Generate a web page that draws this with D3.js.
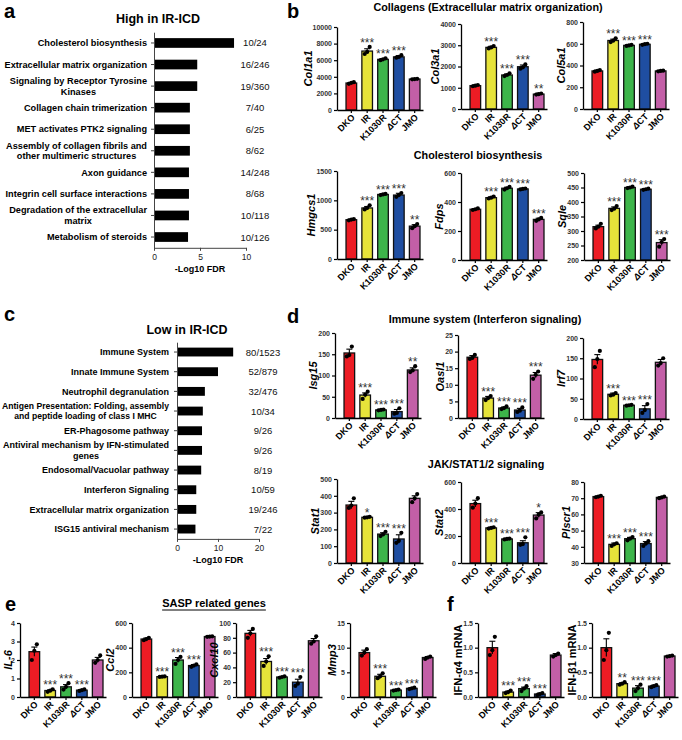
<!DOCTYPE html>
<html><head><meta charset="utf-8">
<script src="https://cdn.jsdelivr.net/npm/d3@7"></script>
<style>
body{margin:0;background:#fff}
svg{display:block}
text{font-family:"Liberation Sans",Arial,Helvetica,sans-serif}
</style>
</head><body>
<svg id="fig" width="682" height="740"></svg>
<script>
// ---------------- DATA ----------------
const groups = ["DKO", "IR", "K1030R", "ΔCT", "JMO"];
const groupColors = ["#ec1c24", "#e6e33a", "#3db54a", "#1f4ea1", "#c35fa7"];

const highTerms = ["Cholesterol biosynthesis", "Extracellular matrix organization",
  "Signaling by Receptor Tyrosine\nKinases", "Collagen chain trimerization",
  "MET activates PTK2 signaling", "Assembly of collagen fibrils and\nother multimeric structures",
  "Axon guidance", "Integrin cell surface interactions",
  "Degradation of the extracellular\nmatrix", "Metabolism of steroids"];
const highLogFDR = [8.7, 4.7, 4.7, 3.9, 3.9, 3.9, 3.8, 3.8, 3.8, 3.7];
const highCounts = ["10/24", "16/246", "19/360", "7/40", "6/25", "8/62", "14/248", "8/68", "10/118", "10/126"];
const highTicks = [0, 5, 10];

const lowTerms = ["Immune System", "Innate Immune System", "Neutrophil degranulation",
  "Antigen Presentation: Folding, assembly\nand peptide loading of class I MHC",
  "ER-Phagosome pathway", "Antiviral mechanism by IFN-stimulated\ngenes",
  "Endosomal/Vacuolar pathway", "Interferon Signaling",
  "Extracellular matrix organization", "ISG15 antiviral mechanism"];
const lowLogFDR = [13.7, 10.0, 6.8, 6.3, 6.1, 6.1, 5.9, 4.7, 4.7, 4.5];
const lowCounts = ["80/1523", "52/879", "32/476", "10/34", "9/26", "9/26", "8/19", "10/59", "19/246", "7/22"];
const lowTicks = [0, 10, 20];

// panel b
const col1a1 = [3250, 7100, 6100, 6400, 3730];
const col1a1Sem = [80, 280, 80, 150, 40];
const col1a1Pts = [[3150, 3280, 3350], [6750, 7000, 7600], [6000, 6100, 6220], [6300, 6400, 6600], [3700, 3730, 3760]];
const col1a1Sig = ["", "***", "***", "***", ""];
const col1a1Ticks = [0, 2000, 4000, 6000, 8000, 10000];

const col3a1 = [1100, 2900, 1600, 1990, 700];
const col3a1Sem = [40, 50, 50, 80, 40];
const col3a1Pts = [[1070, 1100, 1130], [2850, 2900, 2960], [1550, 1600, 1680], [1900, 1960, 2100], [680, 700, 730]];
const col3a1Sig = ["", "***", "***", "***", "**"];
const col3a1Ticks = [0, 1000, 2000, 3000, 4000];

const col5a1 = [350, 630, 585, 595, 350];
const col5a1Sem = [7, 12, 5, 5, 3];
const col5a1Pts = [[343, 350, 358], [615, 628, 650], [580, 585, 590], [590, 596, 600], [346, 350, 352]];
const col5a1Sig = ["", "***", "***", "***", ""];
const col5a1Ticks = [0, 200, 400, 600, 800];

const hmgcs1 = [670, 870, 1100, 1090, 560];
const hmgcs1Sem = [10, 25, 12, 30, 25];
const hmgcs1Pts = [[660, 672, 680], [845, 870, 915], [1090, 1100, 1110], [1060, 1090, 1125], [525, 560, 595]];
const hmgcs1Sig = ["", "***", "***", "***", "**"];
const hmgcs1Ticks = [0, 500, 1000, 1500];

const fdps = [350, 430, 495, 490, 280];
const fdpsSem = [5, 6, 7, 3, 8];
const fdpsPts = [[345, 350, 356], [424, 430, 438], [486, 495, 504], [487, 490, 493], [270, 280, 290]];
const fdpsSig = ["", "***", "***", "***", "***"];
const fdpsTicks = [0, 200, 400, 600];

const sqle = [315, 378, 450, 444, 260];
const sqleSem = [5, 5, 2, 2, 10];
const sqlePts = [[309, 315, 325], [372, 377, 386], [448, 450, 453], [442, 444, 446], [246, 262, 272]];
const sqleSig = ["", "***", "***", "***", "***"];
const sqleTicks = [200, 250, 300, 350, 400, 450, 500];

// panel d
const isg15 = [153, 54, 19, 15, 113];
const isg15Sem = [9, 5, 1, 5, 5];
const isg15Pts = [[145, 148, 168], [45, 55, 62], [18, 19, 20], [10, 12, 23], [108, 112, 122]];
const isg15Sig = ["", "***", "***", "***", "**"];
const isg15Ticks = [0, 50, 100, 150, 200];

const oasl1 = [18.3, 6.0, 3.0, 2.4, 12.9];
const oasl1Sem = [0.5, 0.5, 0.3, 0.5, 0.8];
const oasl1Pts = [[17.8, 18.1, 19.0], [5.4, 6.0, 6.6], [2.7, 3.0, 3.5], [1.8, 2.2, 3.2], [11.8, 13.0, 14.0]];
const oasl1Sig = ["", "***", "***", "***", "***"];
const oasl1Ticks = [0, 5, 10, 15, 20, 25];

const irf7 = [147, 61, 34, 25, 140];
const irf7Sem = [12, 3, 1, 8, 7];
const irf7Pts = [[128, 148, 168], [58, 60, 64], [33, 34, 35], [15, 22, 37], [132, 138, 150]];
const irf7Sig = ["", "***", "***", "***", ""];
const irf7Ticks = [0, 50, 100, 150, 200];

const stat1 = [345, 272, 172, 143, 385];
const stat1Sem = [22, 3, 8, 25, 15];
const stat1Pts = [[328, 342, 385], [270, 272, 275], [160, 170, 186], [120, 132, 180], [362, 385, 410]];
const stat1Sig = ["", "*", "***", "***", ""];
const stat1Ticks = [0, 100, 200, 300, 400, 500];

const stat2 = [440, 260, 178, 150, 355];
const stat2Sem = [25, 5, 3, 15, 18];
const stat2Pts = [[410, 440, 480], [255, 260, 265], [175, 178, 181], [135, 140, 190], [330, 358, 375]];
const stat2Sig = ["", "***", "***", "***", "*"];
const stat2Ticks = [0, 200, 400, 600];

const plscr1 = [71.0, 41.5, 45.0, 42.0, 70.5];
const plscr1Sem = [0.4, 0.8, 0.8, 1.2, 0.4];
const plscr1Pts = [[70.6, 71.0, 71.5], [40.5, 41.5, 42.2], [44.0, 45.0, 46.0], [40.5, 42.0, 43.5], [70.0, 70.5, 71.0]];
const plscr1Sig = ["", "***", "***", "***", ""];
const plscr1Ticks = [30, 40, 50, 60, 70, 80];

// panel e
const il6 = [2.45, 0.35, 0.55, 0.37, 2.0];
const il6Sem = [0.25, 0.04, 0.12, 0.03, 0.14];
const il6Pts = [[2.0, 2.5, 2.85], [0.28, 0.34, 0.42], [0.4, 0.55, 0.75], [0.33, 0.37, 0.41], [1.85, 2.0, 2.25]];
const il6Sig = ["", "***", "***", "***", ""];
const il6Ticks = [0, 1, 2, 3, 4];

const ccl2 = [470, 165, 300, 255, 490];
const ccl2Sem = [8, 3, 20, 8, 3];
const ccl2Pts = [[460, 470, 480], [163, 165, 167], [268, 300, 325], [245, 255, 265], [488, 490, 492]];
const ccl2Sig = ["", "***", "***", "***", ""];
const ccl2Ticks = [0, 200, 400, 600];

const cxcl10 = [86, 48, 27, 20, 76];
const cxcl10Sem = [4, 4, 0.8, 4, 3];
const cxcl10Pts = [[80, 86, 92], [42, 48, 55], [26, 27, 28], [15, 18, 27], [72, 75, 82]];
const cxcl10Sig = ["", "***", "***", "***", ""];
const cxcl10Ticks = [0, 20, 40, 60, 80, 100];

const mmp3 = [9.0, 4.2, 1.4, 1.75, 8.0];
const mmp3Sem = [0.5, 0.4, 0.1, 0.15, 0.2];
const mmp3Pts = [[8.4, 9.0, 9.7], [3.8, 4.2, 4.8], [1.3, 1.4, 1.5], [1.6, 1.75, 1.9], [7.7, 8.0, 8.2]];
const mmp3Sig = ["", "***", "***", "***", ""];
const mmp3Ticks = [0, 5, 10, 15];

// panel f
const ifna4 = [1.0, 0.10, 0.17, 0.06, 0.85];
const ifna4Sem = [0.13, 0.02, 0.03, 0.02, 0.03];
const ifna4Pts = [[0.85, 0.95, 1.22], [0.08, 0.10, 0.13], [0.12, 0.17, 0.22], [0.04, 0.06, 0.08], [0.82, 0.85, 0.88]];
const ifna4Sig = ["", "***", "***", "***", ""];
const ifna4Ticks = [0, 0.5, 1.0, 1.5];

const ifnb1 = [1.0, 0.27, 0.18, 0.22, 0.83];
const ifnb1Sem = [0.18, 0.02, 0.05, 0.02, 0.01];
const ifnb1Pts = [[0.75, 0.95, 1.3], [0.25, 0.27, 0.30], [0.12, 0.18, 0.25], [0.20, 0.22, 0.24], [0.82, 0.83, 0.84]];
const ifnb1Sig = ["", "**", "***", "***", ""];
const ifnb1Ticks = [0, 0.5, 1.0, 1.5];

// ---------------- DRAWING ----------------
const svg = d3.select("#fig");

function label(x, y, s, size, opts = {}) {
  return svg.append("text").attr("x", x).attr("y", y).text(s)
    .attr("font-size", size)
    .attr("font-weight", opts.weight || "bold")
    .attr("font-style", opts.style || "normal")
    .attr("text-anchor", opts.anchor || "start")
    .attr("fill", opts.fill || "#000");
}

// panel letters
label(4, 18, "a", 20);
label(287, 18, "b", 20);
label(4, 321, "c", 20);
label(287, 323, "d", 20);
label(5, 611, "e", 20);
label(447, 611, "f", 20);

// titles
label(158, 23, "High in IR-ICD", 12.5, {anchor: "middle"});
label(187, 334, "Low in IR-ICD", 12.5, {anchor: "middle"});
label(488, 11, "Collagens (Extracellular matrix organization)", 10.8, {anchor: "middle"});
label(478, 159, "Cholesterol biosynthesis", 10.8, {anchor: "middle"});
label(485, 323, "Immune system (Interferon signaling)", 10.8, {anchor: "middle"});
label(486, 468, "JAK/STAT1/2 signaling", 10.8, {anchor: "middle"});
const sasp = label(214, 607, "SASP related genes", 11, {anchor: "middle"});
{
  const w = sasp.node().getComputedTextLength();
  svg.append("line").attr("x1", 214 - w / 2).attr("x2", 214 + w / 2)
    .attr("y1", 610).attr("y2", 610).attr("stroke", "#000").attr("stroke-width", 1);
}

// horizontal enrichment bar charts
function hbar(terms, vals, counts, ticks, L) {
  const g = svg.append("g");
  const x = d3.scaleLinear().domain([ticks[0], ticks[ticks.length - 1]]).range([L.axisX, L.x1]);
  const y = d3.scaleBand().domain(terms).range([L.top, L.bottom]).paddingInner(0.55).paddingOuter(0.275);
  g.selectAll("rect.hb").data(terms).join("rect").attr("class", "hb")
    .attr("x", L.axisX).attr("y", d => y(d))
    .attr("width", (d, i) => x(vals[i]) - L.axisX).attr("height", y.bandwidth())
    .attr("fill", "#000");
  const ya = g.append("g").attr("transform", `translate(${L.axisX},0)`)
    .call(d3.axisLeft(y).tickSizeInner(3).tickSizeOuter(0).tickFormat(""));
  ya.select(".domain").attr("stroke", "#444").attr("stroke-width", 1);
  ya.selectAll(".tick line").attr("stroke", "#444");
  const xa = g.append("g").attr("transform", `translate(0,${L.bottom})`)
    .call(d3.axisBottom(x).tickValues(ticks).tickSizeInner(3).tickSizeOuter(0).tickPadding(3));
  xa.select(".domain").attr("stroke", "#444").attr("stroke-width", 1);
  xa.selectAll(".tick line").attr("stroke", "#444");
  xa.selectAll("text").attr("font-size", 8.5).attr("fill", "#222")
    .attr("font-family", '"Liberation Sans",Arial,sans-serif');
  label((L.axisX + L.x1) / 2, L.bottom + 24, "-Log10 FDR", 9, {anchor: "middle"});
  terms.forEach((t, i) => {
    const lines = t.split("\n");
    const cy = y(t) + y.bandwidth() / 2;
    const lh = 10.5;
    const y0 = cy - (lines.length - 1) * lh / 2 + L.fs * 0.35;
    const nodes = lines.map((s, k) => label(0, y0 + k * lh, s, L.fs, {anchor: "middle"}));
    let w = d3.max(nodes, n => n.node().getComputedTextLength());
    const avail = L.labelX - 2;
    if (w > avail) {
      const fs = L.fs * avail / w;
      nodes.forEach(n => n.attr("font-size", fs));
      w = avail;
    }
    if (lines.length === 1) nodes[0].attr("text-anchor", "end").attr("x", L.labelX);
    else nodes.forEach(n => n.attr("x", L.labelX - w / 2));
    label(L.countX, cy + 3.5, counts[i], 9.5, {anchor: "middle", weight: "normal", fill: "#111"});
  });
}
hbar(highTerms, highLogFDR, highCounts, highTicks,
  {axisX: 154, x1: 246, top: 32.2, bottom: 247.8, labelX: 147, countX: 255, fs: 9.2});
hbar(lowTerms, lowLogFDR, lowCounts, lowTicks,
  {axisX: 177, x1: 259, top: 342.2, bottom: 538.9, labelX: 169, countX: 263, fs: 9});

// grouped bar charts with error bars and points
function barChart(c) {
  const g = svg.append("g");
  const y = d3.scaleLinear().domain([c.t[0], c.t[c.t.length - 1]]).range([c.base, c.top]);
  const x = d3.scaleBand().domain(groups).range([c.x0, c.x0 + 86])
    .paddingInner(0.33).paddingOuter(0.38).align(0.75);
  const bw = x.bandwidth();
  g.selectAll("rect.bar").data(groups).join("rect").attr("class", "bar")
    .attr("x", d => x(d)).attr("y", (d, i) => y(c.m[i]))
    .attr("width", bw).attr("height", (d, i) => c.base - y(c.m[i]))
    .attr("fill", (d, i) => groupColors[i]).attr("stroke", "#111").attr("stroke-width", 1.3);
  groups.forEach((d, i) => {
    const cx = x(d) + bw / 2;
    const yt = y(c.m[i] + c.e[i]);
    g.append("line").attr("x1", cx).attr("x2", cx).attr("y1", y(c.m[i] - c.e[i])).attr("y2", yt)
      .attr("stroke", "#000").attr("stroke-width", 1.1);
    g.append("line").attr("x1", cx - 3).attr("x2", cx + 3).attr("y1", yt).attr("y2", yt)
      .attr("stroke", "#000").attr("stroke-width", 1.1);
    const off = [-2.5, 0, 2.5];
    c.p[i].forEach((v, k) => {
      g.append("circle").attr("cx", cx + off[k]).attr("cy", y(v)).attr("r", 2.1).attr("fill", "#000");
    });
    if (c.s[i]) {
      const topY = Math.min(yt, y(d3.max(c.p[i])));
      label(cx, topY - 7 + 6.9, c.s[i], 12, {anchor: "middle", weight: "normal", fill: "#333"});
    }
  });
  const fmt = c.fmt || d3.format("d");
  const ya = g.append("g").attr("transform", `translate(${c.x0},0)`)
    .call(d3.axisLeft(y).tickValues(c.t).tickFormat(fmt).tickSizeInner(3).tickSizeOuter(0).tickPadding(2));
  ya.select(".domain").attr("stroke", "#000").attr("stroke-width", 1.3);
  ya.selectAll(".tick line").attr("stroke", "#000").attr("stroke-width", 1.2);
  ya.selectAll("text").attr("font-size", 7).attr("font-weight", "bold").attr("fill", "#333")
    .attr("font-family", '"Liberation Sans",Arial,sans-serif');
  let tw = 0;
  ya.selectAll("text").each(function () { tw = Math.max(tw, this.getComputedTextLength()); });
  const xa = g.append("g").attr("transform", `translate(0,${c.base})`)
    .call(d3.axisBottom(x).tickSizeInner(3).tickSizeOuter(0).tickFormat(""));
  xa.select(".domain").attr("stroke", "#000").attr("stroke-width", 1.3);
  xa.selectAll(".tick line").attr("stroke", "#000").attr("stroke-width", 1.2);
  groups.forEach(d => {
    const cx = x(d) + bw / 2;
    const t = g.append("text").attr("transform", `translate(${cx + 4},${c.base + 8}) rotate(-45)`)
      .attr("text-anchor", "end").attr("font-size", 9).attr("font-weight", "bold");
    if (d === "ΔCT") {
      t.append("tspan").attr("font-style", "italic").text("Δ");
      t.append("tspan").text("CT");
    } else t.text(d);
  });
  const lx = Math.max(c.x0 - 5 - tw - 1, 12);
  g.append("text").attr("transform", `translate(${lx},${(c.top + c.base) / 2}) rotate(-90)`)
    .attr("text-anchor", "middle").attr("font-size", 11).attr("font-weight", "bold")
    .attr("font-style", c.italic === false ? "normal" : "italic").text(c.gene);
}

const f1 = d3.format(".1f");
const charts = [
  {gene: "Col1a1", m: col1a1, e: col1a1Sem, p: col1a1Pts, s: col1a1Sig, t: col1a1Ticks, x0: 337, top: 27, base: 110},
  {gene: "Col3a1", m: col3a1, e: col3a1Sem, p: col3a1Pts, s: col3a1Sig, t: col3a1Ticks, x0: 461, top: 24, base: 109},
  {gene: "Col5a1", m: col5a1, e: col5a1Sem, p: col5a1Pts, s: col5a1Sig, t: col5a1Ticks, x0: 583, top: 22, base: 109},
  {gene: "Hmgcs1", m: hmgcs1, e: hmgcs1Sem, p: hmgcs1Pts, s: hmgcs1Sig, t: hmgcs1Ticks, x0: 337, top: 171, base: 259},
  {gene: "Fdps", m: fdps, e: fdpsSem, p: fdpsPts, s: fdpsSig, t: fdpsTicks, x0: 461, top: 173, base: 260},
  {gene: "Sqle", m: sqle, e: sqleSem, p: sqlePts, s: sqleSig, t: sqleTicks, x0: 584, top: 173, base: 260},
  {gene: "Isg15", m: isg15, e: isg15Sem, p: isg15Pts, s: isg15Sig, t: isg15Ticks, x0: 335, top: 333, base: 418},
  {gene: "Oasl1", m: oasl1, e: oasl1Sem, p: oasl1Pts, s: oasl1Sig, t: oasl1Ticks, x0: 458, top: 335, base: 418},
  {gene: "Irf7", m: irf7, e: irf7Sem, p: irf7Pts, s: irf7Sig, t: irf7Ticks, x0: 583, top: 338, base: 419},
  {gene: "Stat1", m: stat1, e: stat1Sem, p: stat1Pts, s: stat1Sig, t: stat1Ticks, x0: 337, top: 479, base: 563},
  {gene: "Stat2", m: stat2, e: stat2Sem, p: stat2Pts, s: stat2Sig, t: stat2Ticks, x0: 461, top: 482, base: 563},
  {gene: "Plscr1", m: plscr1, e: plscr1Sem, p: plscr1Pts, s: plscr1Sig, t: plscr1Ticks, x0: 584, top: 482, base: 563},
  {gene: "IL-6", m: il6, e: il6Sem, p: il6Pts, s: il6Sig, t: il6Ticks, x0: 20, top: 623, base: 697},
  {gene: "Ccl2", m: ccl2, e: ccl2Sem, p: ccl2Pts, s: ccl2Sig, t: ccl2Ticks, x0: 132, top: 623, base: 697},
  {gene: "Cxcl10", m: cxcl10, e: cxcl10Sem, p: cxcl10Pts, s: cxcl10Sig, t: cxcl10Ticks, x0: 236, top: 623, base: 697},
  {gene: "Mmp3", m: mmp3, e: mmp3Sem, p: mmp3Pts, s: mmp3Sig, t: mmp3Ticks, x0: 350, top: 623, base: 697},
  {gene: "IFN-α4 mRNA", italic: false, fmt: f1, m: ifna4, e: ifna4Sem, p: ifna4Pts, s: ifna4Sig, t: ifna4Ticks, x0: 478, top: 623, base: 697},
  {gene: "IFN-β1 mRNA", italic: false, fmt: f1, m: ifnb1, e: ifnb1Sem, p: ifnb1Pts, s: ifnb1Sig, t: ifnb1Ticks, x0: 592, top: 623, base: 697}
];
charts.forEach(barChart);
</script>
</body></html>
